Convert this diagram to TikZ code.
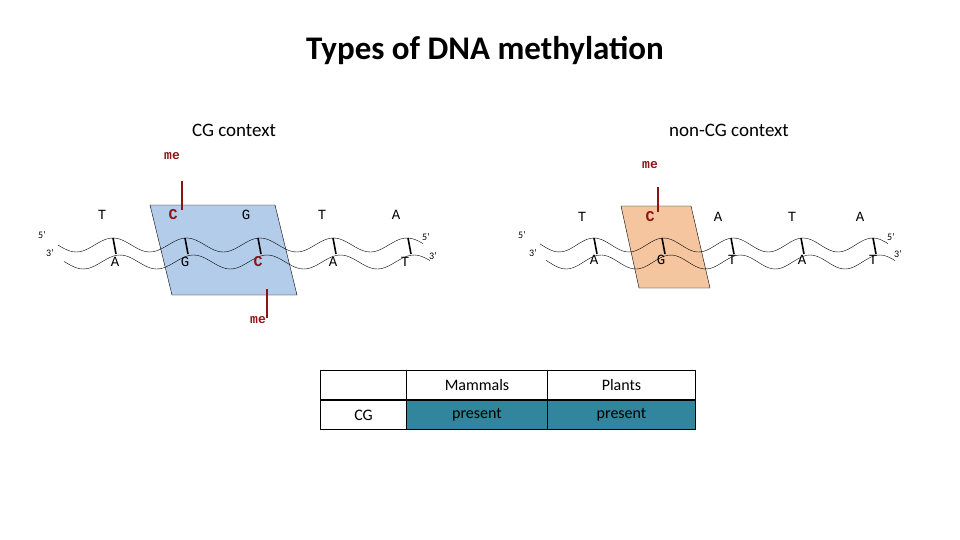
\documentclass[tikz,border=0pt]{standalone}
\usepackage{fontspec}
\setmainfont{Carlito}
\setmonofont{Liberation Mono}
\definecolor{blueb}{HTML}{B3CCEA}
\definecolor{orab}{HTML}{F4C59E}
\definecolor{teal1}{HTML}{31859C}
\definecolor{mered}{HTML}{8B1414}
\begin{document}
\begin{tikzpicture}[x=1pt,y=-1pt,
  base/.style={font=\ttfamily\fontsize{14}{14}\selectfont},
  mebase/.style={font=\ttfamily\bfseries\fontsize{15}{15}\selectfont,text=mered},
  metxt/.style={font=\ttfamily\bfseries\fontsize{13}{13}\selectfont,text=mered},
  meline/.style={draw=mered,line width=2.2pt},
  pair/.style={line width=1.6pt},
  prime/.style={font=\fontsize{10}{10}\selectfont},
  lbl/.style={font=\fontsize{19}{19}\selectfont},
  cell/.style={draw,line width=1pt,minimum height=29,inner sep=0,font=\fontsize{16}{16}\selectfont}]
\useasboundingbox (0,0) rectangle (960,540);
\node[font=\bfseries\fontsize{33}{33}\selectfont] (title) at (485,50) {Types of DNA methylation};
\node[lbl] (cg) at (234,130) {CG context};
\node[lbl] (ncg) at (729,130) {non-CG context};
% left
\filldraw[fill=blueb,draw=black] (150,205) -- (275,205) -- (297,295) -- (172,295) -- cycle;
\draw[domain=58:423,samples=120,smooth] plot (\x,{245-7*cos((\x-113)/73.5*360)});
\draw[domain=64:430,samples=120,smooth] plot (\x,{262-7*cos((\x-120)/73.5*360)});
\foreach \x in {113,185,258,333,408} \draw[pair] (\x,238) -- (\x+3,254);
\foreach \x/\t in {102/T,246/G,322/T,396/A} \node[base] at (\x,215) {\t};
\node[mebase] (c1) at (173,215) {C};
\foreach \x/\t in {115/A,185/G,333/A,405/T} \node[base] at (\x,262) {\t};
\node[mebase] (c2) at (258,262) {C};
\node[metxt] (me1) at (172,156) {me};
\node[metxt] (me2) at (258,320) {me};
\coordinate (m1a) at (182,181); \coordinate (m1b) at (182,210);
\coordinate (m2a) at (267,289); \coordinate (m2b) at (267,318);
\draw[meline] (m1a) -- (m1b);
\draw[meline] (m2a) -- (m2b);
\node[prime] at (42,235) {5’}; \node[prime] at (50,253) {3’};
\node[prime] at (426,237) {5’}; \node[prime] at (433,256) {3’};
% right
\filldraw[fill=orab,draw=black] (621,206) -- (691,206) -- (710,288) -- (639,288) -- cycle;
\draw[domain=540:888,samples=120,smooth] plot (\x,{245-7*cos((\x-594)/69.7*360)});
\draw[domain=546:895,samples=120,smooth] plot (\x,{262-7*cos((\x-601)/69.7*360)});
\foreach \x in {594,662,731,801,873} \draw[pair] (\x,238) -- (\x+3,254);
\foreach \x/\t in {582/T,718/A,792/T,860/A} \node[base] at (\x,217) {\t};
\node[mebase] (c3) at (650,217) {C};
\foreach \x/\t in {594/A,661/G,732/T,802/A,873/T} \node[base] at (\x,260) {\t};
\node[metxt] (me3) at (650,165) {me};
\coordinate (m3a) at (658,187); \coordinate (m3b) at (658,212);
\draw[meline] (m3a) -- (m3b);
\node[prime] at (522,235) {5’}; \node[prime] at (533,253) {3’};
\node[prime] at (891,237) {5’}; \node[prime] at (898,254) {3’};
% table
\node[cell,minimum width=86,anchor=north west] (t11) at (320,370) {};
\node[cell,minimum width=141,anchor=north west] (t12) at (406,370) {Mammals};
\node[cell,minimum width=148,anchor=north west] (t13) at (547,370) {Plants};
\node[cell,minimum width=86,anchor=north west] (t21) at (320,400) {CG};
\node[cell,minimum width=141,anchor=north west,fill=teal1] (t22) at (406,400) {present};
\node[cell,minimum width=148,anchor=north west,fill=teal1] (t23) at (547,400) {present};
\end{tikzpicture}
\end{document}
